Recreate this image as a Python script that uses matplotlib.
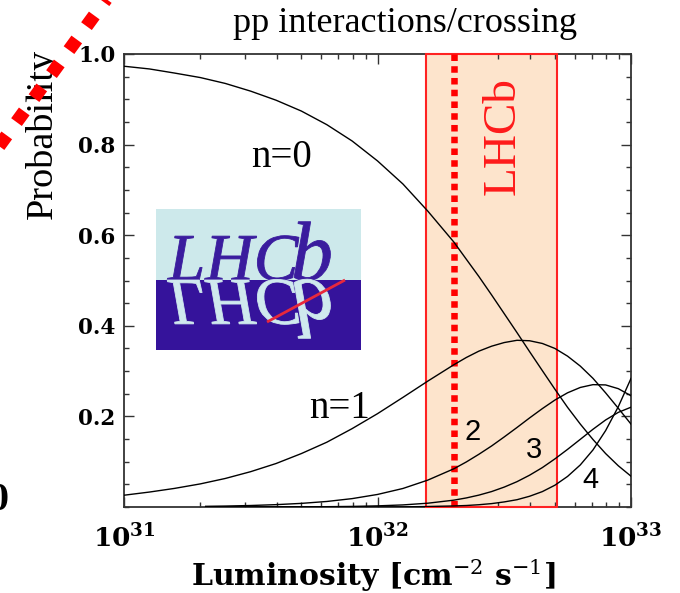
import matplotlib
matplotlib.use("Agg")
import matplotlib.pyplot as plt
from matplotlib.ticker import LogLocator, MultipleLocator, NullFormatter
from matplotlib.patches import Rectangle, PathPatch
from matplotlib.textpath import TextPath
from matplotlib.font_manager import FontProperties
from matplotlib.transforms import Affine2D
from matplotlib.lines import Line2D

plt.rcParams['mathtext.fontset'] = 'dejavuserif'

# luminosity points (cm^-2 s^-1)
lumi = [1.00e31, 1.26e31, 1.58e31, 2.00e31, 2.51e31, 3.16e31, 3.98e31,
        5.01e31, 6.31e31, 7.94e31, 1.00e32, 1.26e32, 1.58e32, 2.00e32,
        2.24e32, 2.51e32, 2.82e32, 3.16e32, 3.55e32, 3.98e32, 4.47e32,
        5.01e32, 5.62e32, 6.31e32, 7.08e32, 7.94e32, 8.91e32, 1.00e33]

# probability of n pp interactions per crossing
p0 = [0.973, 0.967, 0.958, 0.948, 0.935, 0.918, 0.898, 0.874, 0.844, 0.808,
      0.764, 0.713, 0.653, 0.585, 0.547, 0.509, 0.468, 0.427, 0.385, 0.343,
      0.301, 0.260, 0.220, 0.183, 0.149, 0.118, 0.091, 0.068]
p1 = [0.026, 0.033, 0.041, 0.051, 0.063, 0.078, 0.096, 0.118, 0.143, 0.173,
      0.206, 0.242, 0.278, 0.314, 0.330, 0.344, 0.355, 0.363, 0.368, 0.367,
      0.361, 0.350, 0.333, 0.311, 0.284, 0.252, 0.218, 0.183]

# higher multiplicities start at 2.1e31
lumi_hi = [2.10e31] + lumi[4:]
p2 = [0.0015, 0.0021, 0.0033, 0.0052, 0.0080, 0.0122, 0.0185, 0.0277, 0.0409,
      0.0594, 0.0843, 0.0994, 0.1163, 0.1348, 0.1546, 0.1755, 0.1966, 0.2172,
      0.2361, 0.2521, 0.2639, 0.2701, 0.2695, 0.2612, 0.2456]
p3 = [0.0000, 0.0000, 0.0001, 0.0002, 0.0004, 0.0007, 0.0013, 0.0025, 0.0046,
      0.0084, 0.0151, 0.0200, 0.0262, 0.0341, 0.0439, 0.0559, 0.0702, 0.0870,
      0.1062, 0.1272, 0.1494, 0.1716, 0.1921, 0.2089, 0.2203]
p4 = [0.0000, 0.0000, 0.0000, 0.0000, 0.0000, 0.0000, 0.0001, 0.0001, 0.0003,
      0.0011, 0.0023, 0.0033, 0.0050, 0.0075, 0.0112, 0.0161, 0.0237, 0.0340,
      0.0481, 0.0675, 0.0929, 0.1260, 0.1686, 0.2213, 0.2838]

# LHCb running range and nominal luminosity
band_lo, band_hi = 1.55e32, 5.1e32
nominal = 2.0e32

xtick_vals = [1e31, 1e32, 1e33]
xtick_labels = [r'$\mathbf{10^{31}}$', r'$\mathbf{10^{32}}$', r'$\mathbf{10^{33}}$']
ytick_vals = [0.2, 0.4, 0.6, 0.8, 1.0]
ytick_labels = ['0.2', '0.4', '0.6', '0.8', '1.0']

W, H = 680, 593


def fx(px):
    return px / W


def fy(py):
    return 1 - py / H


fig = plt.figure(figsize=(W / 100, H / 100), dpi=100)
ax = fig.add_axes([fx(124), fy(507), (631 - 124) / W, (507 - 54) / H])

ax.axvspan(band_lo, band_hi, facecolor='#FDE4CC', edgecolor='none', zorder=0.5)
ax.axvspan(band_lo, band_hi, fill=False, edgecolor='#FF2222', lw=1.5,
           zorder=2.6, clip_on=False)
ax.axvline(nominal, color='#FF0000', lw=4.7, dashes=(1.0, 0.8),
           dash_capstyle='butt', zorder=2.7)

for x, y in ((lumi, p0), (lumi, p1), (lumi_hi, p2), (lumi_hi, p3), (lumi_hi, p4)):
    ax.plot(x, y, color='black', lw=1.0, zorder=3)

ax.set_xscale('log')
ax.set_xlim(1e31, 1e33)
ax.set_ylim(0, 1)
ax.set_xticks(xtick_vals, labels=xtick_labels)
ax.xaxis.set_minor_locator(LogLocator(base=10, subs=range(2, 10)))
ax.xaxis.set_minor_formatter(NullFormatter())
ax.set_yticks(ytick_vals, labels=ytick_labels)
ax.yaxis.set_minor_locator(MultipleLocator(0.05))
ax.tick_params(which='both', direction='in', top=True, right=True,
               width=1, color='#333333')
ax.tick_params(which='major', length=7)
ax.tick_params(which='minor', length=3.5)
ax.tick_params(axis='y', pad=6)
ax.tick_params(axis='x', pad=13)
for lbl in ax.get_yticklabels():
    lbl.set_fontfamily('DejaVu Serif')
    lbl.set_fontweight('bold')
    lbl.set_fontsize(15.5)
for lbl in ax.get_xticklabels():
    lbl.set_fontsize(19)
for sp in ax.spines.values():
    sp.set_linewidth(1.3)
    sp.set_color('#333333')

# curve labels
serif = 'Liberation Serif'
fig.text(fx(282), fy(167), 'n=0', ha='center', va='baseline', family=serif, size=28)
fig.text(fx(340), fy(418), 'n=1', ha='center', va='baseline', family=serif, size=28)
for lab, px, py in (('2', 473, 440), ('3', 534, 458), ('4', 590, 488)):
    fig.text(fx(px), fy(py), lab, ha='center', va='baseline',
             family='Liberation Sans', size=21)
fig.text(fx(515), fy(195), 'LHCb', rotation=90, rotation_mode='anchor',
         ha='left', va='baseline', family=serif, size=34, color='#FF1A1A')

# titles and axis labels
fig.text(fx(405), fy(32), 'pp interactions/crossing', ha='center', va='baseline',
         family=serif, size=26)
fig.text(fx(52), fy(134), 'Probability', rotation=90, rotation_mode='anchor',
         ha='center', va='baseline', family=serif, size=27.5)
fig.text(fx(373), fy(586), r'Luminosity [cm$^{-2}$ s$^{-1}$]', ha='center',
         va='baseline', family='DejaVu Serif', weight='bold', size=21.5)
fig.text(fx(8), fy(510), '0', ha='right', va='baseline', family=serif,
         weight='bold', size=29)

# red dotted diagonal running off the top left corner
fig.add_artist(Line2D([fx(-17), fx(130)], [fy(168), fy(-33.5)],
                      transform=fig.transFigure, color='#FF0000', lw=9.5,
                      dashes=(1.0, 1.25), dash_capstyle='butt', zorder=10))

# experiment logo with its reflection
logo = fig.add_axes([fx(156), fy(350), 205 / W, 141 / H])
logo.set_xlim(0, 205)
logo.set_ylim(0, 141)
logo.axis('off')
logo.add_patch(Rectangle((0, 70), 205, 71, color='#CDE9EB', lw=0))
logo.add_patch(Rectangle((0, 0), 205, 70, color='#35139B', lw=0))
logo_font = FontProperties(family='Liberation Serif', style='italic')


def logo_word(x0, base, flip, color):
    lhc = TextPath((0, 0), 'LHC', size=67, prop=logo_font)
    b = TextPath((0, 0), 'b', size=84, prop=logo_font)
    sy = -1 if flip else 1
    b_x = x0 + lhc.get_extents().x1 - 8
    for path, px in ((lhc, x0), (b, b_x)):
        tr = Affine2D().scale(1, sy).translate(px, base) + logo.transData
        logo.add_patch(PathPatch(path, transform=tr, facecolor=color,
                                 edgecolor=color, lw=0.6))


logo_word(12, 70, False, '#3A1C9E')
logo_word(12, 70, True, '#CFE9EE')
logo.plot([111, 189], [28, 70], color='#E8283C', lw=2, solid_capstyle='butt')

fig.savefig('out.png', dpi=100)
